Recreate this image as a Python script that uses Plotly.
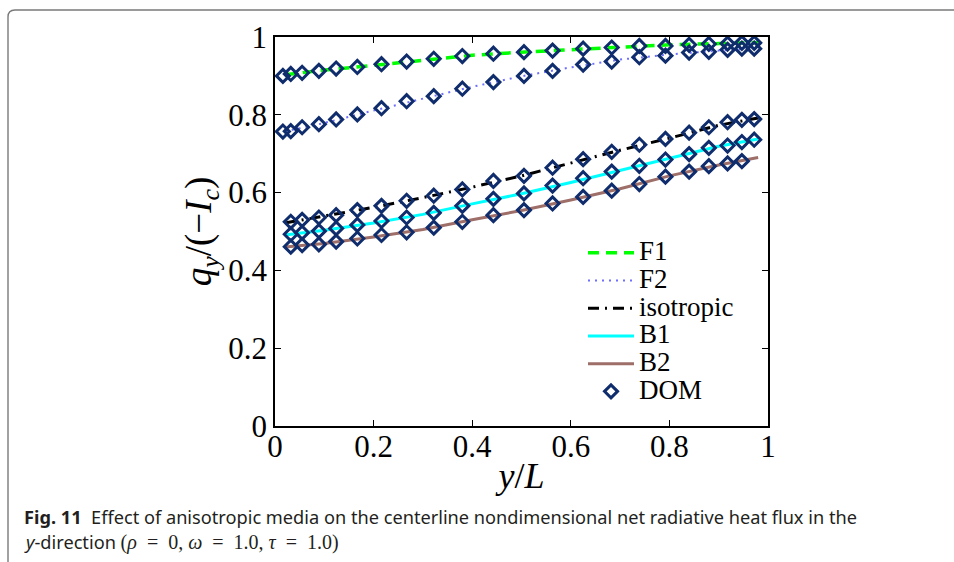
import plotly.graph_objects as go

# ---------------- data ----------------
x_line = [0.02, 0.1, 0.2, 0.3, 0.4, 0.5, 0.6, 0.7, 0.8, 0.9, 0.98]
F1_line = [0.903, 0.915, 0.927, 0.941, 0.953, 0.961, 0.968, 0.975, 0.980, 0.983, 0.986]
F2_line = [0.757, 0.779, 0.811, 0.842, 0.872, 0.899, 0.922, 0.942, 0.955, 0.965, 0.971]
iso_line = [0.522, 0.540, 0.562, 0.587, 0.614, 0.643, 0.677, 0.709, 0.740, 0.773, 0.792]
B1_line = [0.491, 0.503, 0.522, 0.544, 0.571, 0.597, 0.626, 0.657, 0.688, 0.719, 0.738]
B2_line = [0.460, 0.469, 0.486, 0.505, 0.530, 0.554, 0.581, 0.610, 0.643, 0.671, 0.690]

x_dom_F = [0.016, 0.032, 0.055, 0.089, 0.124, 0.167, 0.216, 0.267, 0.322, 0.380, 0.443,
           0.505, 0.563, 0.625, 0.683, 0.739, 0.792, 0.840, 0.880, 0.918, 0.947, 0.972]
F1_dom = [0.900, 0.905, 0.908, 0.913, 0.919, 0.923, 0.930, 0.937, 0.944, 0.951, 0.957,
          0.961, 0.965, 0.970, 0.973, 0.977, 0.977, 0.980, 0.982, 0.983, 0.985, 0.985]
F2_dom = [0.757, 0.758, 0.768, 0.776, 0.788, 0.801, 0.817, 0.835, 0.848, 0.867, 0.884,
          0.900, 0.913, 0.929, 0.937, 0.948, 0.952, 0.960, 0.962, 0.967, 0.970, 0.970]

x_dom_B = [0.032, 0.055, 0.089, 0.124, 0.167, 0.216, 0.267, 0.322, 0.380, 0.443,
           0.505, 0.563, 0.625, 0.683, 0.739, 0.792, 0.840, 0.880, 0.918, 0.947, 0.972]
iso_dom = [0.525, 0.530, 0.536, 0.542, 0.555, 0.566, 0.579, 0.592, 0.608, 0.630,
           0.643, 0.664, 0.686, 0.705, 0.723, 0.738, 0.754, 0.768, 0.781, 0.787, 0.789]
B1_dom = [0.493, 0.497, 0.501, 0.508, 0.517, 0.527, 0.536, 0.548, 0.566, 0.584,
          0.598, 0.618, 0.637, 0.654, 0.669, 0.685, 0.699, 0.715, 0.721, 0.730, 0.736]
x_dom_B2 = [0.032, 0.055, 0.089, 0.124, 0.167, 0.216, 0.267, 0.322, 0.380, 0.443,
            0.505, 0.563, 0.625, 0.683, 0.739, 0.792, 0.840, 0.880, 0.918, 0.947]
B2_dom = [0.461, 0.465, 0.467, 0.474, 0.482, 0.491, 0.498, 0.510, 0.525, 0.542,
          0.555, 0.572, 0.589, 0.605, 0.622, 0.641, 0.654, 0.668, 0.675, 0.681]

ticks = [0, 0.2, 0.4, 0.6, 0.8, 1]
tick_labels = ["0", "0.2", "0.4", "0.6", "0.8", "1"]
legend_names = ["F1", "F2", "isotropic", "B1", "B2", "DOM"]

# ---------------- figure ----------------
W, H = 954, 562
L, R, T, B = 275, 954 - 768, 37, 562 - 426
PW, PH = W - L - R, H - T - B

def px(x):
    return (x - L) / PW

def py(y):
    return (H - B - y) / PH

SERIF = "Liberation Serif, Times New Roman, serif"
dom_color = "#0f2c6c"
LEG_TXT = 27

def leg(name):
    return f'<span style="font-size:{LEG_TXT}px">{name}</span>'

fig = go.Figure()
line_styles = [
    (F1_line, dict(color="#00ff00", width=3.5, dash="11px,7px")),
    (F2_line, dict(color="#6f6fff", width=2, dash="2px,5px")),
    (iso_line, dict(color="#000000", width=3, dash="11px,6px,2px,6px")),
    (B1_line, dict(color="#00ffff", width=3)),
    (B2_line, dict(color="#9e6e69", width=3)),
]
for name, (ys, ln) in zip(legend_names[:5], line_styles):
    fig.add_trace(go.Scatter(x=x_line, y=ys, mode="lines", name=leg(name), line=ln))

dom_sets = [(x_dom_F, F1_dom), (x_dom_F, F2_dom), (x_dom_B, iso_dom),
            (x_dom_B, B1_dom), (x_dom_B2, B2_dom)]
for i, (xs, ys) in enumerate(dom_sets):
    fig.add_trace(go.Scatter(
        x=xs, y=ys, mode="markers", name=leg(legend_names[5]), legendgroup="DOM",
        showlegend=(i == 0),
        marker=dict(symbol="diamond-open", size=10, color=dom_color,
                    line=dict(width=3, color=dom_color)),
    ))

axis_common = dict(
    range=[0, 1], tickvals=ticks, ticktext=tick_labels,
    ticks="inside", ticklen=6, tickwidth=1, tickcolor="#000",
    showline=True, linecolor="#000", linewidth=1.5, mirror="ticks",
    showgrid=False, zeroline=False,
    tickfont=dict(family=SERIF, size=31, color="#000"),
)

fig.update_layout(
    width=W, height=H,
    margin=dict(l=L, r=R, t=T, b=B),
    paper_bgcolor="white", plot_bgcolor="white",
    xaxis=dict(**axis_common, ticklabelstandoff=-8,
               title=dict(text="<i>y</i>/<i>L</i>", standoff=0,
                          font=dict(family=SERIF, size=36, color="#000"))),
    yaxis=dict(**axis_common,
               title=dict(text="<i>q</i><sub><i>y</i></sub>/(−<i>I</i><sub><i>c</i></sub>)",
                          standoff=5,
                          font=dict(family=SERIF, size=37, color="#000"))),
    legend=dict(x=px(583), y=py(234), xanchor="left", yanchor="top",
                bgcolor="rgba(0,0,0,0)", borderwidth=0, tracegroupgap=0,
                itemwidth=46,
                font=dict(family=SERIF, size=19, color="#000")),
    showlegend=True,
)

# frame around figure (journal box)
r = 7
path = (f"M {px(8)},{py(H + 5)} L {px(8)},{py(10 + r)} "
        f"Q {px(8)},{py(10)} {px(8 + r)},{py(10)} L {px(W + 5)},{py(10)}")
fig.add_shape(type="path", path=path, xref="paper", yref="paper",
              line=dict(color="#7a7a7a", width=1.4))

CAP = "Noto Sans, Liberation Sans, Arial, sans-serif"
fig.add_annotation(
    x=px(22), y=py(517), xref="paper", yref="paper", xanchor="left", yanchor="middle",
    showarrow=False, align="left",
    text="<b>Fig. 11</b>  Effect of anisotropic media on the centerline nondimensional net radiative heat flux in the",
    font=dict(family=CAP, size=18.2, color="#231f20"))
math = ('<span style="font-family:Liberation Serif, serif;font-size:20px">'
        '(<i>ρ</i>&nbsp;&nbsp;=&nbsp;&nbsp;0,&nbsp;<i>ω</i>&nbsp;&nbsp;=&nbsp;&nbsp;1.0,&nbsp;'
        '<i>τ</i>&nbsp;&nbsp;=&nbsp;&nbsp;1.0)</span>')
fig.add_annotation(
    x=px(22), y=py(542), xref="paper", yref="paper", xanchor="left", yanchor="middle",
    showarrow=False, align="left",
    text="<i>y</i>-direction " + math,
    font=dict(family=CAP, size=18.2, color="#231f20"))

fig.write_html("out.html")
